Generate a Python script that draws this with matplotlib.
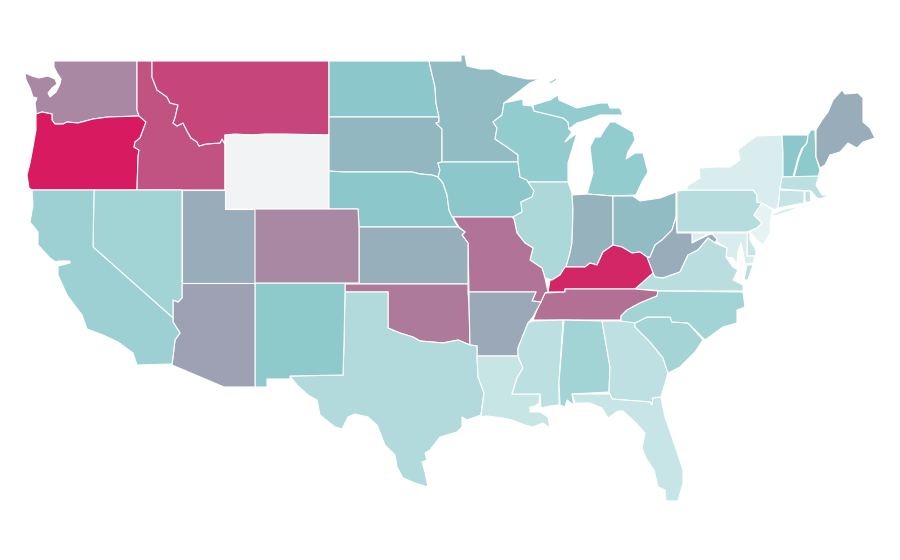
import matplotlib
matplotlib.use("Agg")
import matplotlib.pyplot as plt
from matplotlib.colors import LinearSegmentedColormap, Normalize
from matplotlib.patches import Polygon

STATE_NAMES = ["WA","OR","ID","MT","WY","ND","SD","NE","MN","IA","WI","MI","IL","IN","OH","PA","NY","VT","NH","ME","MA","CT","RI","NJ","DE","MD","WV","VA","KY","TN","MO","KS","OK","AR","TX","NM","AZ","UT","CO","NV","CA","LA","MS","AL","GA","SC","NC","FL"]
STATE_RATES = [.684,1.0,.836,.875,None,.5,.55,.5,.535,.5,.46,.46,.317,.566,.535,.267,.072,.5,.49,.579,.233,.183,.217,.0,.167,.078,.579,.244,.967,.75,.743,.572,.724,.592,.289,.49,.612,.579,.684,.378,.405,.167,.233,.378,.217,.361,.378,.172]
SCALE_STOPS = ["#e6f3f4", "#8cc8cb", "#d81b60"]
NO_DATA = "#f2f3f5"

STATE_OUTLINES = {
"WA":[[(54,61),(137,61),(137,110),(139,116),(108,117),(93,119),(78,123),(67,122),(63,124),(55,124),(52,120),(52,114),(42,112),(36,114),(36,111),(35,103),(37,98),(33,97),(30,88),(26,80),(25,73),(32,76),(39,78),(48,76),(55,79),(57,84),(52,88),(48,93),(50,97),(56,92),(60,84),(61,79),(57,73),(54,67)]],
"OR":[[(36,114),(42,112),(52,114),(52,120),(55,124),(63,124),(67,122),(78,123),(93,119),(108,117),(139,116),(146,122),(143,130),(140,138),(135,142),(134,147),(139,150),(138,157),(137,190),(32,190),(29,188),(27,175),(30,163),(33,147),(36,130)]],
"ID":[[(137,61),(152,61),(152,77),(157,90),(167,97),(170,103),(178,105),(175,118),(173,123),(177,126),(183,123),(187,131),(191,138),(197,142),(199,146),(206,144),(220,143),(222,139),(225,144),(225,190),(137,190),(138,157),(139,150),(134,147),(135,142),(140,138),(143,130),(146,122),(139,116),(137,110)]],
"MT":[[(152,61),(329,61),(329,135),(225,135),(225,144),(222,139),(220,143),(206,144),(199,146),(197,142),(191,138),(187,131),(183,123),(177,126),(173,123),(175,118),(178,105),(170,103),(167,97),(157,90),(152,77)]],
"WY":[[(225,135),(235,134),(252,135),(265,134),(285,134),(329,135),(329,209),(225,209)]],
"ND":[[(329,61),(429,61),(431,70),(435,87),(436,103),(439,117),(329,117)]],
"SD":[[(329,117),(439,117),(439,122),(436,123),(442,129),(442,162),(438,163),(440,170),(438,177),(432,175),(420,174),(412,172),(343,172),(329,171)]],
"NE":[[(329,171),(343,172),(412,172),(420,174),(432,175),(438,177),(443,183),(447,195),(449,210),(455,222),(458,227),(359,227),(358,209),(329,209)]],
"MN":[[(429,61),(461,61),(461,55),(465,55),(467,66),(480,69),(493,69),(502,74),(513,76),(527,79),(540,79),(530,83),(517,93),(504,103),(502,115),(493,122),(497,128),(495,139),(507,147),(518,155),(518,162),(442,162),(442,129),(436,123),(439,122),(439,117),(436,103),(435,87),(431,70)]],
"IA":[[(438,163),(442,162),(518,162),(520,177),(527,180),(534,191),(532,197),(521,202),(522,212),(513,217),(452,217),(449,210),(447,195),(443,183),(438,177),(440,170)]],
"WI":[[(504,103),(523,99),(523,105),(532,106),(534,111),(563,118),(568,122),(569,129),(572,132),(565,142),(577,133),(568,163),(568,182),(528,182),(527,180),(520,177),(518,162),(518,155),(507,147),(495,139),(497,128),(493,122),(502,115)]],
"MI":[[(534,111),(533,105),(550,100),(558,95),(559,100),(577,108),(600,103),(608,103),(610,108),(620,108),(623,115),(600,115),(587,120),(577,123),(569,129),(568,122),(563,118)],
      [(610,122),(615,122),(633,132),(635,140),(628,152),(626,159),(635,153),(643,153),(648,172),(642,182),(636,195),(613,196),(587,194),(593,173),(590,147),(595,137),(600,137),(605,129)],
      [(549,82),(556,78),(557,80),(550,84)]],
"IL":[[(528,182),(568,182),(572,193),(573,210),(572,243),(570,253),(566,267),(560,275),(552,280),(545,278),(542,268),(530,260),(533,248),(525,243),(517,233),(514,219),(513,217),(522,212),(521,202),(532,197),(534,191)]],
"IN":[[(572,195),(587,194),(613,196),(613,245),(603,252),(597,265),(590,263),(585,267),(578,267),(566,267),(570,253),(572,243),(573,210)]],
"OH":[[(613,196),(633,196),(640,201),(660,198),(676,192),(676,217),(672,230),(662,240),(655,245),(650,257),(647,257),(640,252),(632,253),(622,247),(613,245)]],
"PA":[[(677,191),(687,190),(687,185),(687,190),(753,190),(757,195),(757,202),(762,203),(754,215),(762,223),(757,228),(747,232),(677,232)]],
"NY":[[(687,186),(700,178),(699,168),(718,167),(730,167),(740,160),(738,150),(748,142),(757,136),(782,135),(783,153),(784,173),(780,187),(778,207),(775,210),(762,203),(757,202),(757,195),(753,190),(687,190)],
      [(772,214),(785,209),(800,206),(790,211),(775,216)]],
"VT":[[(782,135),(808,135),(807,143),(802,148),(798,158),(793,177),(783,177),(783,153)]],
"NH":[[(808,135),(811,130),(815,130),(816,157),(820,170),(818,177),(794,177),(799,158),(803,148),(807,143)]],
"ME":[[(816,130),(822,120),(828,112),(833,100),(842,90),(845,94),(858,93),(863,98),(863,122),(870,128),(875,138),(863,142),(857,148),(848,143),(840,152),(830,155),(825,165),(820,168),(816,157)]],
"MA":[[(782,177),(819,176),(816,185),(822,195),(830,195),(820,199),(817,198),(811,191),(780,189)]],
"CT":[[(780,190),(804,191),(804,203),(793,205),(778,208)]],
"RI":[[(805,191),(810,191),(811,202),(805,202)]],
"NJ":[[(762,203),(773,210),(771,218),(770,233),(763,245),(755,238),(750,232),(757,228),(762,223),(754,215)]],
"DE":[[(747,233),(750,233),(750,240),(756,250),(756,256),(747,256)]],
"MD":[[(692,233),(747,233),(747,256),(755,256),(753,263),(745,264),(743,252),(741,243),(738,252),(737,264),(733,258),(726,257),(727,248),(717,242),(708,234),(700,238),(692,242)]],
"WV":[[(676,217),(677,233),(692,233),(692,243),(708,235),(712,234),(717,239),(715,243),(708,238),(698,250),(688,255),(680,272),(663,278),(655,277),(653,273),(647,258),(650,257),(655,245),(662,240),(672,230)]],
"VA":[[(635,289),(653,273),(655,277),(663,278),(680,272),(688,255),(698,250),(708,238),(715,243),(727,248),(726,257),(733,267),(738,270),(733,280),(743,285),(743,291),(667,291)],
      [(747,265),(753,265),(748,280),(744,280)]],
"KY":[[(548,292),(550,280),(552,280),(560,275),(565,267),(578,267),(585,267),(590,263),(597,265),(603,252),(613,245),(622,247),(632,253),(640,252),(647,257),(653,273),(635,289),(565,289),(565,292)]],
"TN":[[(545,293),(565,292),(565,289),(635,289),(658,291),(657,296),(640,303),(627,310),(621,316),(621,320),(533,320),(538,307),(543,297)]],
"MO":[[(453,217),(512,217),(514,219),(517,233),(525,243),(533,248),(530,260),(542,268),(545,278),(548,292),(545,293),(541,302),(532,301),(536,292),(469,292),(468,243),(462,235),(465,232),(459,227)]],
"KS":[[(359,227),(458,227),(465,232),(462,235),(468,243),(468,284),(359,284)]],
"OK":[[(345,284),(468,284),(468,292),(469,303),(470,345),(458,340),(443,343),(432,342),(420,341),(413,337),(400,333),(388,328),(388,292),(345,292)]],
"AR":[[(469,292),(536,292),(532,301),(541,302),(533,317),(528,323),(522,338),(518,348),(518,356),(477,356),(477,346),(470,345),(469,303)]],
"TX":[[(345,292),(388,292),(388,328),(400,333),(413,337),(420,341),(432,342),(443,343),(458,340),(470,345),(477,346),(477,356),(478,377),(484,393),(481,415),(467,420),(462,417),(462,427),(457,432),(440,437),(430,450),(425,453),(427,460),(422,462),(425,472),(428,487),(415,483),(403,478),(397,467),(395,455),(385,445),(377,425),(368,417),(355,414),(348,417),(342,429),(335,427),(320,415),(317,400),(308,395),(297,385),(290,376),(343,375),(344,343)]],
"NM":[[(255,283),(345,283),(345,292),(344,343),(343,375),(290,376),(290,379),(267,379),(267,387),(255,387)]],
"AZ":[[(182,283),(255,283),(255,387),(224,387),(172,365),(173,357),(175,340),(180,333),(173,322),(173,300),(178,302),(182,298)]],
"UT":[[(182,190),(225,190),(225,209),(255,209),(255,283),(182,283)]],
"CO":[[(255,209),(358,209),(359,227),(359,283),(255,283)]],
"NV":[[(94,190),(182,190),(182,298),(178,302),(173,300),(173,318),(93,247)]],
"CA":[[(32,190),(94,190),(93,247),(173,318),(173,322),(180,333),(175,340),(173,357),(172,364),(137,365),(133,353),(118,342),(103,335),(87,329),(82,315),(67,295),(58,275),(58,266),(62,265),(70,263),(70,261),(58,261),(56,262),(50,258),(38,245),(38,232),(30,222),(33,205)]],
"LA":[[(477,356),(518,356),(523,368),(517,378),(512,394),(540,394),(539,403),(535,406),(530,407),(530,412),(540,412),(548,417),(550,428),(543,423),(533,427),(525,425),(512,420),(503,418),(487,416),(478,417),(481,415),(484,393),(478,377)]],
"MS":[[(533,321),(563,320),(559,382),(559,405),(550,406),(541,408),(540,394),(512,394),(517,378),(523,368),(518,356),(518,348),(522,338),(528,323)]],
"AL":[[(564,320),(602,321),(610,367),(609,392),(572,394),(574,405),(567,400),(565,407),(560,405),(559,382)]],
"GA":[[(602,321),(635,321),(635,327),(650,342),(663,358),(668,373),(663,390),(661,397),(653,398),(652,405),(650,402),(612,399),(609,392),(610,367)]],
"SC":[[(635,323),(647,317),(670,317),(672,322),(688,323),(703,340),(695,352),(680,367),(668,373),(663,358),(650,342),(635,327)]],
"NC":[[(658,291),(743,292),(745,307),(737,310),(737,323),(723,327),(705,340),(688,323),(672,322),(670,317),(647,317),(635,323),(621,321),(621,316),(627,310),(640,303),(657,296)]],
"FL":[[(572,394),(610,394),(612,399),(650,402),(652,405),(653,398),(661,397),(662,403),(665,417),(673,440),(683,470),(683,483),(678,501),(666,501),(665,490),(658,487),(654,470),(646,458),(642,448),(645,433),(635,422),(623,411),(618,411),(608,418),(602,408),(590,403),(575,403)]],
}

cmap = LinearSegmentedColormap.from_list("rate", SCALE_STOPS)
norm = Normalize(0, 1)

fig = plt.figure(figsize=(9, 5.6), dpi=100)
ax = fig.add_axes([0, 0, 1, 1])
ax.set_xlim(0, 900)
ax.set_ylim(560, 0)
ax.axis("off")

for name, rate in zip(STATE_NAMES, STATE_RATES):
    color = NO_DATA if rate is None else cmap(norm(rate))
    for ring in STATE_OUTLINES[name]:
        ax.add_patch(Polygon(ring, closed=True, facecolor=color, edgecolor="white", linewidth=0.8, joinstyle="round"))

fig.savefig("out.png", dpi=100, facecolor="white")
